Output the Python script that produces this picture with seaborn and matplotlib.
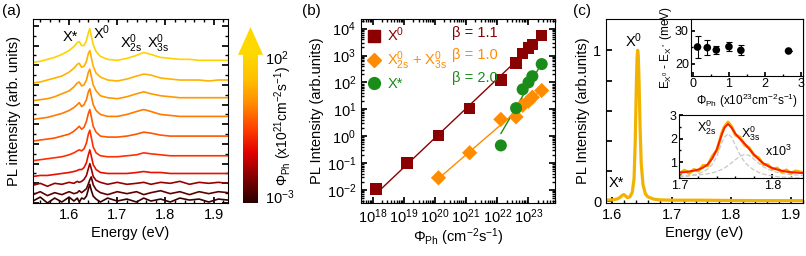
import numpy as np
import pandas as pd
import matplotlib
matplotlib.use("Agg")
import matplotlib.pyplot as plt
import seaborn as sns
from matplotlib.lines import Line2D
from matplotlib.patches import Polygon
from matplotlib.colors import LinearSegmentedColormap
from matplotlib.ticker import MultipleLocator, LogLocator, NullFormatter, FixedLocator

# ---------------- data ----------------
# (a) PL spectra at increasing photon flux (bottom -> top), arb. units
energy_a = [1.525, 1.54, 1.555, 1.57, 1.585, 1.60, 1.61, 1.617, 1.621, 1.626, 1.631,
            1.636, 1.640, 1.643, 1.646, 1.650, 1.656, 1.665, 1.68, 1.70, 1.72, 1.74,
            1.755, 1.77, 1.79, 1.81, 1.83, 1.85, 1.87, 1.89, 1.91, 1.93]
offsets_a = [2, 8.5, 18, 27, 43, 63, 85, 104, 122, 143]
profiles_a = [
    [0, 4, -2, 3, -1, 4, 0, 3, -1, 3, 2, 5, 12, 17, 11, 5, 2, -1, 3, 0, 2, -1, 3, 0, 2, -1, 3, 1, 2, -1, 2, 1],
    [0, 3, -1, 2, 0, 3, 1, 2, 4, 2, 4, 6, 11, 15, 18, 10, 5, 2, 0, 3, 1, 3, 0, 2, 4, 1, 3, 0, 3, 1, 3, 2],
    [0, 2, -1, 2, 1, 3, 2, 4, 3, 4, 6, 10, 17, 22, 17, 9, 5, 3, 1, 3, 1, 2, 3, 1, 3, 2, 4, 1, 3, 2, 3, 2],
    [0, 1, 1, 2, 3, 4, 5, 6, 7, 7, 9, 14, 22, 27, 21, 12, 7, 4, 3, 3, 3, 4, 5, 4, 4, 3, 3, 3, 3, 3, 3, 3],
    [0, 1, 2, 3, 4, 6, 8, 10, 11, 10, 12, 18, 27, 31, 24, 14, 8, 5, 4, 4, 5, 6, 8, 7, 6, 5, 5, 5, 5, 5, 5, 5],
    [0, 1, 2, 3, 5, 7, 10, 13, 15, 12, 14, 20, 28, 32, 25, 15, 9, 5, 4, 4, 5, 7, 9, 8, 6, 5, 5, 5, 5, 5, 5, 5],
    [0, 1, 2, 4, 6, 9, 12, 15, 17, 13, 15, 20, 28, 31, 24, 15, 9, 5, 3, 3, 5, 8, 10, 8, 5, 4, 3, 3, 3, 3, 3, 3],
    [0, 1, 2, 4, 7, 10, 14, 18, 19, 15, 16, 21, 29, 32, 25, 16, 10, 5, 3, 2, 4, 7, 9, 7, 5, 4, 3, 3, 3, 3, 3, 3],
    [0, 1, 3, 5, 7, 11, 15, 19, 20, 16, 17, 22, 30, 33, 26, 17, 10, 6, 3, 2, 4, 7, 9, 8, 5, 4, 3, 3, 3, 2, 3, 3],
    [0, 1, 3, 5, 8, 12, 16, 20, 21, 17, 17, 22, 30, 34, 27, 18, 11, 6, 3, 2, 4, 7, 10, 8, 5, 4, 3, 3, 2, 2, 2, 2],
]
trace_colors = ["#3a0000", "#5e0000", "#960000", "#e81000", "#ff3000", "#ff5400",
                "#ff7a00", "#ff9800", "#ffb200", "#ffd200"]
cbar_colors = ["#2a0000", "#800000", "#e00000", "#ff4000", "#ff8c00", "#ffc000", "#ffd800"]

# (b) integrated PL intensity vs photon flux
phi_x0 = [1.3e18, 1.3e19, 1.3e20, 1.3e21, 1.3e22, 4e22, 6.5e22, 1e23, 1.33e23, 2.65e23]
pl_x0 = [0.011, 0.1, 1.05, 10.5, 120, 520, 1200, 1900, 2600, 5500]
phi_2s = [1.3e20, 1.3e21, 1.3e22, 4e22, 6.5e22, 1e23, 1.33e23, 2.65e23]
pl_2s = [0.028, 0.24, 4.2, 5.2, 14, 20, 28, 50]
phi_xs = [1.3e22, 4e22, 6.5e22, 1e23, 1.33e23, 2.65e23]
pl_xs = [0.45, 11, 55, 100, 170, 480]
betas = [1.1, 1.0, 2.0]

# (c) normalised spectrum
energy_c = [1.59, 1.60, 1.605, 1.61, 1.614, 1.617, 1.620, 1.623, 1.626, 1.630, 1.634,
            1.637, 1.639, 1.641, 1.642, 1.643, 1.644, 1.645, 1.647, 1.649, 1.652,
            1.656, 1.66, 1.67, 1.68, 1.70, 1.75, 1.80, 1.85, 1.92]
int_c = [0.008, 0.01, 0.013, 0.018, 0.028, 0.04, 0.045, 0.035, 0.025, 0.03, 0.06,
         0.15, 0.4, 0.8, 0.95, 1.0, 0.97, 0.85, 0.5, 0.25, 0.11, 0.05, 0.03, 0.015,
         0.01, 0.008, 0.008, 0.006, 0.005, 0.005]
# inset: binding-energy difference
phi_in = [0.13, 0.4, 0.65, 1.0, 1.33, 2.65]
de_in = [25.1, 24.9, 24.2, 25.2, 24.1, 23.9]
de_err = [3.3, 2.3, 1.3, 1.4, 1.5, 0.0]
# inset: X2s/X3s region (x10^3)
energy_z = [1.699, 1.705, 1.71, 1.715, 1.72, 1.725, 1.73, 1.735, 1.74, 1.745, 1.748,
            1.752, 1.756, 1.76, 1.765, 1.77, 1.775, 1.78, 1.785, 1.79, 1.795, 1.80,
            1.805, 1.81, 1.815, 1.82, 1.825, 1.833]
data_z = [0.5, 0.65, 0.52, 0.68, 0.62, 0.85, 0.85, 1.25, 1.5, 2.2, 2.5, 2.7, 2.5, 2.15,
          2.05, 1.72, 1.6, 1.28, 1.18, 0.9, 0.88, 0.7, 0.74, 0.58, 0.66, 0.52, 0.62, 0.55]
fit_z = [0.55, 0.57, 0.6, 0.63, 0.68, 0.76, 0.9, 1.15, 1.55, 2.15, 2.45, 2.62, 2.45, 2.2,
         1.98, 1.78, 1.55, 1.32, 1.12, 0.95, 0.83, 0.74, 0.68, 0.63, 0.59, 0.57, 0.55, 0.53]
l2s_z = [0.36, 0.38, 0.41, 0.45, 0.5, 0.58, 0.7, 0.9, 1.25, 1.8, 2.05, 2.2, 2.05, 1.7,
         1.3, 1.0, 0.8, 0.66, 0.56, 0.49, 0.44, 0.41, 0.38, 0.36, 0.35, 0.34, 0.33, 0.32]
l3s_z = [0.4, 0.41, 0.42, 0.43, 0.45, 0.47, 0.5, 0.54, 0.6, 0.68, 0.74, 0.85, 0.97, 1.1,
         1.25, 1.32, 1.28, 1.12, 0.95, 0.8, 0.7, 0.62, 0.56, 0.52, 0.49, 0.46, 0.45, 0.43]

# ---------------- style ----------------
sns.set_theme(style="ticks")
plt.rcParams.update({
    "font.family": ["Liberation Sans", "DejaVu Sans"],
    "mathtext.fontset": "custom",
    "mathtext.rm": "Liberation Sans",
    "mathtext.it": "Liberation Sans:italic",
    "mathtext.bf": "Liberation Sans:bold",
    "axes.edgecolor": "black",
    "axes.linewidth": 0.8,
    "xtick.color": "black", "ytick.color": "black",
    "text.color": "black", "axes.labelcolor": "black",
    "xtick.direction": "in", "ytick.direction": "in",
    "font.size": 10,
})

W, H = 806, 256
fig = plt.figure(figsize=(W / 100, H / 100), dpi=100)


def rect(x0, y0, x1, y1):
    return [x0 / W, 1 - y1 / H, (x1 - x0) / W, (y1 - y0) / H]


TOP, BOT = 19, 203

# ---------------- (a) ----------------
ax_a = fig.add_axes(rect(33, TOP, 228, BOT))
rows = []
for i, (off, prof) in enumerate(zip(offsets_a, profiles_a)):
    for e, v in zip(energy_a, prof):
        rows.append({"E": e, "I": off + v, "trace": i})
df_a = pd.DataFrame(rows)
sns.lineplot(data=df_a, x="E", y="I", hue="trace", palette=trace_colors,
             legend=False, estimator=None, sort=False, lw=1.2, ax=ax_a)
ax_a.set_xlim(1.525, 1.93)
ax_a.set_ylim(0, 187)
ax_a.xaxis.set_major_locator(MultipleLocator(0.1))
ax_a.xaxis.set_minor_locator(MultipleLocator(0.02))
ax_a.yaxis.set_major_locator(MultipleLocator(20))
ax_a.yaxis.set_minor_locator(MultipleLocator(10))
ax_a.set_yticklabels([])
ax_a.tick_params(which="both", top=True, right=True, labelsize=10.5)
ax_a.tick_params(which="major", length=4)
ax_a.tick_params(which="minor", length=2)
ax_a.set_xlabel("Energy (eV)", fontsize=10.5, labelpad=3)
ax_a.set_ylabel("PL intensity (arb. units)", fontsize=10.5, labelpad=5)
ax_a.text(1.603, 169, "X*", ha="center", va="center", fontsize=10.5)
ax_a.text(1.668, 173, r"X$^0$", ha="center", va="center", fontsize=10.5)
ax_a.text(1.729, 162, r"X$^0_{\mathrm{2s}}$", ha="center", va="center", fontsize=10.5)
ax_a.text(1.785, 162, r"X$^0_{\mathrm{3s}}$", ha="center", va="center", fontsize=10.5)

# colour-bar arrow
cmap = LinearSegmentedColormap.from_list("flux", cbar_colors)
ax_cb = fig.add_axes(rect(238, 27, 263, BOT))
grad = np.linspace(0, 1, 256).reshape(-1, 1)
ax_cb.imshow(grad, extent=[0.2, 0.8, 0, 0.842], origin="lower", cmap=cmap, aspect="auto")
ax_cb.add_patch(Polygon([(0, 0.842), (1, 0.842), (0.5, 1.0)], closed=True,
                        color=cbar_colors[-1], lw=0))
ax_cb.set_xlim(0, 1)
ax_cb.set_ylim(0, 1)
ax_cb.axis("off")
fig.text(265 / W, 1 - 59 / H, r"10$^2$", ha="left", va="center", fontsize=10.5)
fig.text(265 / W, 1 - 198 / H, r"10$^{-3}$", ha="left", va="center", fontsize=10.5)
fig.text(283 / W, 1 - 126 / H, r"$\Phi_{\mathrm{Ph}}$ (x10$^{21}$cm$^{-2}$s$^{-1}$)",
         rotation=90, ha="center", va="center", fontsize=10)

# ---------------- (b) ----------------
ax_b = fig.add_axes(rect(361, TOP, 555, BOT))
ax_b.set_xscale("log")
ax_b.set_yscale("log")
c_x0, c_2s, c_xs = "#8b0000", "#ff8c00", "#1a8c1a"
series = [(phi_x0, pl_x0, c_x0, "s", 70), (phi_2s, pl_2s, c_2s, "D", 60),
          (phi_xs, pl_xs, c_xs, "o", 75)]
for (px, py, col, mk, sz), b in zip(series, betas):
    lx, ly = np.log10(px), np.log10(py)
    c0 = np.mean(ly - b * lx)
    xs = np.array([min(px), max(px)])
    ax_b.plot(xs, 10 ** (b * np.log10(xs) + c0), color=col, lw=1.0, zorder=2)
    sns.scatterplot(x=px, y=py, color=col, marker=mk, s=sz, edgecolor="none",
                    ax=ax_b, zorder=3, legend=False)
ax_b.set_xlim(10 ** 17.63, 10 ** 23.85)
ax_b.set_ylim(10 ** -2.49, 10 ** 4.36)
ax_b.xaxis.set_major_locator(LogLocator(base=10, numticks=20))
ax_b.xaxis.set_minor_locator(LogLocator(base=10, subs=np.arange(2, 10), numticks=20))
ax_b.xaxis.set_minor_formatter(NullFormatter())
ax_b.yaxis.set_major_locator(LogLocator(base=10, numticks=20))
ax_b.yaxis.set_minor_locator(LogLocator(base=10, subs=np.arange(2, 10), numticks=20))
ax_b.yaxis.set_minor_formatter(NullFormatter())
ax_b.tick_params(which="both", top=True, right=True, labelsize=10.5)
ax_b.tick_params(which="major", length=4)
ax_b.tick_params(which="minor", length=2)
ax_b.set_xlabel(r"$\Phi_{\mathrm{Ph}}$ (cm$^{-2}$s$^{-1}$)", fontsize=10.5, labelpad=0)
ax_b.set_ylabel("PL Intensity (arb.units)", fontsize=10.5, labelpad=2)
handles = [Line2D([], [], ls="none", marker="s", ms=8, color=c_x0),
           Line2D([], [], ls="none", marker="D", ms=7.5, color=c_2s),
           Line2D([], [], ls="none", marker="o", ms=8.5, color=c_xs)]
labels = [r"X$^0$", r"X$^0_{\mathrm{2s}}$ + X$^0_{\mathrm{3s}}$", "X*"]
ax_b.legend(handles, labels, loc="upper left", bbox_to_anchor=(-0.03, 1.02),
            frameon=False, fontsize=10.5, handletextpad=0.3, labelspacing=0.35,
            handlelength=1.2, borderaxespad=0.3,
            labelcolor=[c_x0, c_2s, c_xs])
for (yp, col), b in zip([(33, c_x0), (55, c_2s), (78, c_xs)], betas):
    ax_b.text((452 - 361) / 194, 1 - (yp - TOP) / (BOT - TOP), f"β = {b:.1f}",
              color=col, transform=ax_b.transAxes, ha="left", va="center", fontsize=10.5)

# ---------------- (c) ----------------
ax_c = fig.add_axes(rect(606, TOP, 803, BOT))
sns.lineplot(x=energy_c, y=int_c, color="#f2b200", lw=2.3, ax=ax_c)
ax_c.set_xlim(1.59, 1.92)
ax_c.set_ylim(-0.0106, 1.207)
ax_c.xaxis.set_major_locator(MultipleLocator(0.1))
ax_c.xaxis.set_minor_locator(MultipleLocator(0.02))
ax_c.yaxis.set_major_locator(FixedLocator([0, 0.2, 0.4, 0.6, 0.8, 1.0]))
ax_c.set_yticklabels(["0", "", "", "", "", "1"])
ax_c.tick_params(which="both", labelsize=10.5)
ax_c.tick_params(which="major", length=4)
ax_c.tick_params(which="minor", length=2)
ax_c.set_xlabel("Energy (eV)", fontsize=10.5, labelpad=3)
ax_c.set_ylabel("PL Intensity (arb.units)", fontsize=10.5, labelpad=2)
ax_c.text(1.637, 1.065, r"X$^0$", ha="center", va="center", fontsize=10.5)
ax_c.text(1.608, 0.12, "X*", ha="center", va="center", fontsize=10.5)

# inset 1
ax_i1 = fig.add_axes(rect(691, TOP, 803, 76))
ax_i1.errorbar(phi_in, de_in, yerr=de_err, fmt="none", ecolor="black", elinewidth=0.8,
               capsize=2, capthick=0.8)
sns.scatterplot(x=phi_in, y=de_in, color="black", s=30, edgecolor="none", ax=ax_i1,
                zorder=3, legend=False)
ax_i1.set_xlim(-0.05, 3.05)
ax_i1.set_ylim(16.4, 33.5)
ax_i1.xaxis.set_major_locator(MultipleLocator(1))
ax_i1.xaxis.set_minor_locator(MultipleLocator(0.5))
ax_i1.yaxis.set_major_locator(MultipleLocator(10))
ax_i1.yaxis.set_minor_locator(MultipleLocator(5))
ax_i1.tick_params(which="both", labelsize=9, pad=1.5)
ax_i1.tick_params(which="major", length=3)
ax_i1.tick_params(which="minor", length=1.5)
ax_i1.set_xlabel(r"$\Phi_{\mathrm{Ph}}$ (x10$^{23}$cm$^{-2}$s$^{-1}$)", fontsize=8.5, labelpad=1)
ax_i1.set_ylabel(r"E$_{\mathrm{X^0}}$ - E$_{\mathrm{X^*}}$ (meV)", fontsize=8.5, labelpad=1)

# inset 2
ax_i2 = fig.add_axes(rect(679, 115, 803, 178))
sns.lineplot(x=energy_z, y=l2s_z, color="#c8c8c8", lw=0.9, ls="--", ax=ax_i2)
sns.lineplot(x=energy_z, y=l3s_z, color="#c8c8c8", lw=0.9, ls="--", ax=ax_i2)
sns.lineplot(x=energy_z, y=data_z, color="#f2b200", lw=2.2, ax=ax_i2)
sns.lineplot(x=energy_z, y=fit_z, color="#ff1a00", lw=1.4, ax=ax_i2)
ax_i2.set_xlim(1.699, 1.833)
ax_i2.set_ylim(0.32, 3.0)
ax_i2.xaxis.set_major_locator(MultipleLocator(0.1))
ax_i2.xaxis.set_minor_locator(MultipleLocator(0.02))
ax_i2.yaxis.set_major_locator(MultipleLocator(1))
ax_i2.yaxis.set_minor_locator(MultipleLocator(0.5))
ax_i2.tick_params(which="both", labelsize=9, pad=1.5)
ax_i2.tick_params(which="major", length=3)
ax_i2.tick_params(which="minor", length=1.5)
ax_i2.text(1.729, 2.45, r"X$^0_{\mathrm{2s}}$", ha="center", va="center", fontsize=9)
ax_i2.text(1.777, 2.2, r"X$^0_{\mathrm{3s}}$", ha="center", va="center", fontsize=9)
ax_i2.text(1.806, 1.45, r"x10$^3$", ha="center", va="center", fontsize=9)

# panel letters
fig.text(2 / W, 1 - 11 / H, "(a)", ha="left", va="center", fontsize=11)
fig.text(302 / W, 1 - 11 / H, "(b)", ha="left", va="center", fontsize=11)
fig.text(573 / W, 1 - 11 / H, "(c)", ha="left", va="center", fontsize=11)

fig.savefig("out.png", dpi=100)
